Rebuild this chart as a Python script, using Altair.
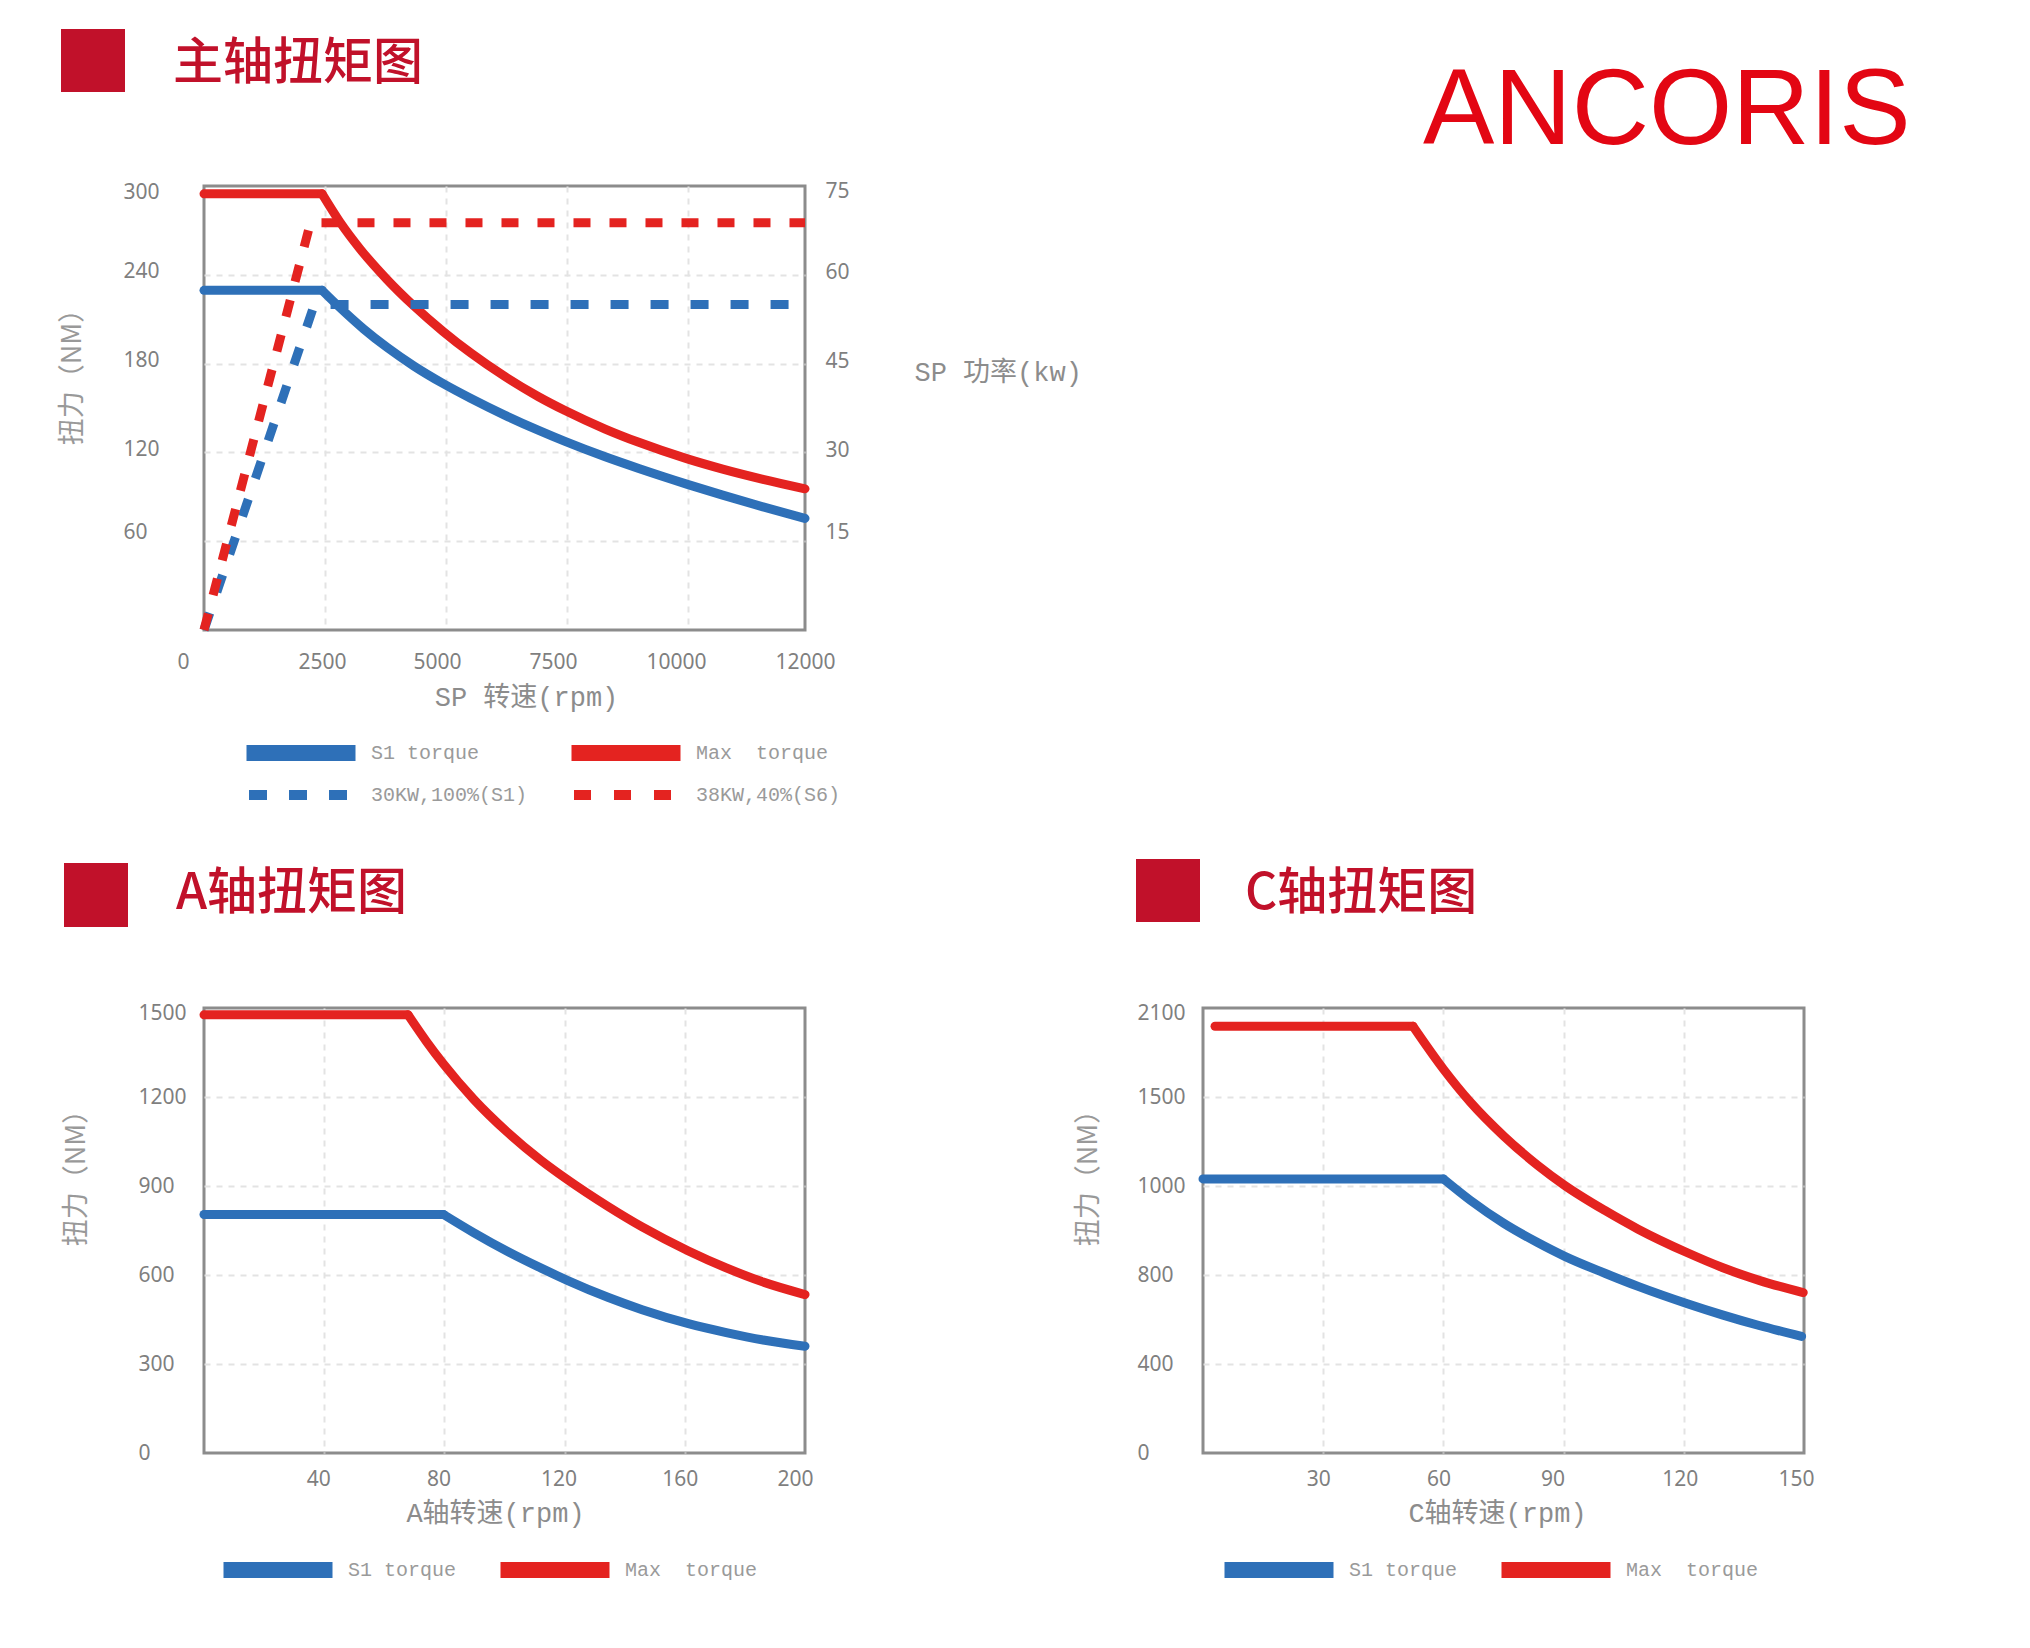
import altair as alt
import pandas as pd

# ---------------- data ----------------
# Main spindle (主轴)
sp_s1_rpm = [0, 2440, 2812, 3298, 3783, 4339, 4934, 5517, 6211, 6903, 7459, 8289, 8983, 9988, 10593, 11282, 12000]
sp_s1_nm = [229.5, 229.5, 217.7, 203.4, 190.9, 178.3, 166.6, 156.4, 145.2, 135.0, 127.4, 117.0, 109.1, 98.4, 91.1, 83.2, 75.4]
sp_max_rpm = [0, 2440, 2812, 3229, 3783, 4339, 4934, 5517, 6211, 6903, 7459, 8289, 8983, 9988, 10593, 11282, 12000]
sp_max_nm = [294.7, 294.7, 275.5, 257.3, 236.8, 218.9, 201.9, 187.0, 171.4, 157.8, 148.3, 135.8, 126.8, 115.6, 108.7, 101.8, 95.4]
sp_p30_rpm = [0, 2280, 12000]
sp_p30_kw = [0, 55.0, 55.0]
sp_p38_rpm = [0, 2200, 12000]
sp_p38_kw = [0, 68.8, 68.8]

# A axis
a_s1_rpm = [0, 79.7, 89.7, 100.9, 112.2, 120.7, 134.6, 145.8, 161.2, 173.8, 186.1, 200]
a_s1_nm = [804, 804, 743, 680, 623, 583, 524, 483, 436, 406, 381, 360]
a_max_rpm = [0, 67.9, 74.1, 79.7, 89.7, 100.9, 112.2, 120.7, 134.6, 145.8, 161.2, 173.8, 186.1, 200]
a_max_nm = [1477, 1477, 1386, 1311, 1193, 1082, 986, 923, 830, 762, 681, 624, 576, 534]

# C axis
c_s1_rpm = [0, 60.0, 66.7, 75.1, 83.5, 90.3, 100.3, 108.6, 120.9, 129.6, 138.8, 149.4]
c_s1_nm = [1040, 1040, 968, 916, 873, 842, 804, 749, 671, 621, 573, 524]
c_max_rpm = [3, 52.4, 60.0, 66.7, 75.1, 83.5, 90.3, 100.3, 108.6, 120.9, 129.6, 138.8, 149.8]
c_max_nm = [1977, 1977, 1688, 1472, 1280, 1117, 1003, 945, 903, 850, 817, 776, 721]

torque_names = ["S1 torque", "Max\u00a0 torque"]
power_names = ["30KW,100%(S1)", "38KW,40%(S6)"]

sp_x_ticks = [0, 2500, 5000, 7500, 10000, 12000]
sp_y_ticks = [60, 120, 180, 240, 300]
sp_p_ticks = [15, 30, 45, 60, 75]
a_x_ticks = [40, 80, 120, 160, 200]
a_y_ticks = [0, 300, 600, 900, 1200, 1500]
c_x_ticks = [30, 60, 90, 120, 150]
c_y_ticks = [0, 400, 800, 1000, 1500, 2100]

titles = ["主轴扭矩图", "A轴扭矩图", "C轴扭矩图"]
brand = "ANCORIS"

# ---------------- styles ----------------
BLUE = "#2e70b8"
RED = "#e42320"
CRIMSON = "#c1112a"
BRAND_RED = "#e30613"
GRAY_LBL = "#7f7f7f"
GRAY_TTL = "#8c8c8c"
MONO = "Liberation Mono, Noto Sans CJK SC"
SOLID = "M-5.45,0H5.45"
DASHED = "M-4.9,0H-3.1M-0.9,0H0.9M3.1,0H4.9"
LW = 9


def series_df(pairs, xname, yname, sname):
    rows = []
    for name, xs, ys in pairs:
        for i, (xv, yv) in enumerate(zip(xs, ys)):
            rows.append({xname: xv, yname: yv, sname: name, "i": i})
    return pd.DataFrame(rows)


def section_title(text, sq, tx, ty):
    sq_layer = alt.Chart(alt.Data(values=[{"k": 1}])).mark_rect(color=CRIMSON).encode(
        x=alt.value(sq[0]), x2=alt.value(sq[1]), y=alt.value(sq[2]), y2=alt.value(sq[3])
    )
    txt_layer = alt.Chart(alt.Data(values=[{"t": text}])).mark_text(
        font="Noto Sans CJK SC", fontSize=50, fontWeight=500, color=CRIMSON,
        align="left", baseline="middle"
    ).encode(text="t:N", x=alt.value(tx), y=alt.value(ty))
    return [sq_layer, txt_layer]


def legend(x, y, symbol, sw, offset, cp):
    return alt.Legend(
        title=None, orient="none", legendX=x, legendY=y, direction="horizontal", columns=2,
        symbolType=symbol, symbolSize=400, symbolStrokeWidth=sw, symbolOpacity=1,
        labelFont="Liberation Mono", labelFontSize=20, labelColor="#9a9a9a",
        labelOffset=offset, columnPadding=cp, padding=0, labelLimit=0,
    )


def shifts(mapping, default=0):
    return {"condition": [{"test": f"datum.value == {k}", "value": v} for k, v in mapping.items()],
            "value": default}


def hide_grid(test):
    return {"condition": {"test": test, "value": 0}, "value": 1}


def torque_lines(df, enc):
    """Flat part drawn straight, the falling part drawn as a smooth curve."""
    flat = alt.Chart(df).transform_filter("datum.i <= 1").mark_line(
        strokeWidth=LW, strokeCap="round", strokeJoin="round").encode(**enc)
    curve = alt.Chart(df).transform_filter("datum.i >= 1").mark_line(
        strokeWidth=LW, strokeCap="round", strokeJoin="round", interpolate="monotone").encode(**enc)
    return alt.layer(flat, curve)


# ---------------- main spindle chart ----------------
sp_torque = series_df(
    [(torque_names[0], sp_s1_rpm, sp_s1_nm), (torque_names[1], sp_max_rpm, sp_max_nm)],
    "rpm", "nm", "series")
sp_power = series_df(
    [(power_names[0], sp_p30_rpm, sp_p30_kw), (power_names[1], sp_p38_rpm, sp_p38_kw)],
    "rpm", "kw", "pseries")

sp_x = alt.X(
    "rpm:Q",
    scale=alt.Scale(domain=[0, 10000, 12000], range=[0, 484, 601], nice=False, zero=False),
    axis=alt.Axis(
        values=sp_x_ticks, format="d", title="SP 转速(rpm)", labelPadding=21, labelFlush=False,
        labelOffset=shifts({0: -21, 2500: -3, 5000: -9, 7500: -14, 10000: -12}),
        gridOpacity=hide_grid("datum.value == 0 || datum.value == 12000"),
        titleFont=MONO, titleFontSize=27, titleX=322, titleY=67,
        titleAlign="center", titleBaseline="middle",
    ),
)

sp_enc = dict(
    x=sp_x,
    y=alt.Y(
        "nm:Q", scale=alt.Scale(domain=[0, 300], nice=False, zero=False),
        axis=alt.Axis(
            values=sp_y_ticks, format="d", title="扭力（NM）", labelAlign="left", labelPadding=81,
            labelOffset=shifts({300: 6, 60: -9}, -3), labelFlush=False,
            gridOpacity=hide_grid("datum.value == 300"),
            titleFont="Noto Sans CJK SC", titleFontSize=27, titleColor="#999999",
            titleAngle=270, titleX=-131.5, titleY=184, titleAlign="center", titleBaseline="middle",
        ),
    ),
    color=alt.Color("series:N", scale=alt.Scale(domain=torque_names, range=[BLUE, RED]),
                    legend=legend(79, 549, SOLID, 16, 52, 59)),
    order="i:Q",
)

sp_power_layer = alt.Chart(sp_power).mark_line(strokeWidth=LW, strokeCap="butt", strokeJoin="round").encode(
    x=sp_x,
    y=alt.Y(
        "kw:Q", scale=alt.Scale(domain=[0, 75], nice=False, zero=False),
        axis=alt.Axis(
            orient="right", values=sp_p_ticks, format="d", grid=False, title="SP 功率(kw)",
            labelPadding=20, labelOffset=shifts({75: 5, 15: -9}, -2), labelFlush=False,
            titleFont=MONO, titleFontSize=27, titleAngle=0, titleX=109, titleY=186,
            titleAlign="left", titleBaseline="middle",
        ),
    ),
    stroke=alt.Stroke("pseries:N", scale=alt.Scale(domain=power_names, range=[BLUE, RED]),
                      legend=legend(79, 594, DASHED, 10, 58, 26)),
    strokeDash=alt.StrokeDash("pseries:N", scale=alt.Scale(domain=power_names, range=[[18, 22], [17, 19]]),
                              legend=None),
    order="i:Q",
)

main = alt.layer(
    torque_lines(sp_torque, sp_enc), sp_power_layer,
    *section_title(titles[0], (-143, -79, -157, -94), -31, -122),
).resolve_scale(y="independent").properties(width=601, height=444)

# ---------------- logo cell ----------------
logo = alt.Chart(alt.Data(values=[{"brand": brand}])).mark_text(
    font="Liberation Sans", fontSize=107, color=BRAND_RED, align="left", baseline="alphabetic"
).encode(text="brand:N", x=alt.value(220), y=alt.value(-42)).properties(
    width=601, height=444, view=alt.ViewBackground(strokeOpacity=0)
)


# ---------------- A / C axis charts ----------------
def axis_chart(s1_rpm, s1_nm, mx_rpm, mx_nm, fname, xdom, xticks, x_shift, ydom, yrange, yticks, ytop,
               xtitle, ytitle_x, title, sq, tx, title_x, leg_x):
    df = series_df([(torque_names[0], s1_rpm, s1_nm), (torque_names[1], mx_rpm, mx_nm)], "rpm", "nm", fname)
    if yrange is not None:
        yscale = alt.Scale(domain=ydom, range=yrange, nice=False, zero=False)
    else:
        yscale = alt.Scale(domain=ydom, nice=False, zero=False)
    enc = dict(
        x=alt.X("rpm:Q", scale=alt.Scale(domain=xdom, nice=False, zero=False),
                axis=alt.Axis(values=xticks, format="d", title=xtitle, labelPadding=15.5, labelFlush=False,
                              labelOffset=shifts(x_shift),
                              gridOpacity=hide_grid(f"datum.value == {xdom[1]}"),
                              titleFont=MONO, titleFontSize=27, titleX=title_x, titleY=60,
                              titleAlign="center", titleBaseline="middle")),
        y=alt.Y("nm:Q", scale=yscale,
                axis=alt.Axis(values=yticks, format="d", title="扭力（NM）", labelAlign="left", labelPadding=66,
                              labelOffset=shifts({ytop: 5}), labelFlush=False,
                              gridOpacity=hide_grid(f"datum.value == 0 || datum.value == {ytop}"),
                              titleFont="Noto Sans CJK SC", titleFontSize=27, titleColor="#999999",
                              titleAngle=270, titleX=ytitle_x, titleY=163,
                              titleAlign="center", titleBaseline="middle")),
        color=alt.Color(f"{fname}:N", scale=alt.Scale(domain=torque_names, range=[BLUE, RED]),
                        legend=legend(leg_x, 544, SOLID, 16, 52, 11)),
        order="i:Q",
    )
    return alt.layer(torque_lines(df, enc), *section_title(title, sq, tx, -114)).properties(
        width=601, height=445)


a_chart = axis_chart(a_s1_rpm, a_s1_nm, a_max_rpm, a_max_nm, "aseries", [0, 200], a_x_ticks,
                     {40: -6, 80: -6, 120: -6, 160: -5, 200: -10},
                     [0, 1500], None, a_y_ticks, 1500, "A轴转速(rpm)", -128,
                     titles[1], (-140, -76, -145, -81), -28, 291, 56)
c_chart = axis_chart(c_s1_rpm, c_s1_nm, c_max_rpm, c_max_nm, "cseries", [0, 150], c_x_ticks,
                     {30: -5, 60: -5, 90: -11, 120: -4, 150: -8},
                     c_y_ticks, [445, 356, 267, 178, 89, 0], c_y_ticks, 2100, "C轴转速(rpm)", -115,
                     titles[2], (-67, -3, -149, -86), 42, 294, 58)

chart = alt.concat(
    main, logo, a_chart, c_chart, columns=2, spacing={"row": 378, "column": 398}, bounds="flush"
).resolve_scale(color="independent", stroke="independent", strokeDash="independent").resolve_legend(
    color="independent", stroke="independent"
).properties(
    padding={"left": 49, "top": 19, "right": 10, "bottom": 10}
).configure_view(
    stroke="#8c8c8c", strokeWidth=3
).configure_axis(
    domain=False, ticks=False, tickSize=0, grid=True, gridColor="#e3e3e3", gridDash=[6, 6], gridWidth=2,
    labelFont="Noto Sans", labelFontSize=21, labelColor=GRAY_LBL,
    titleColor=GRAY_TTL, titleFontWeight="normal",
)

chart.save("out.html", embed_options={"renderer": "svg", "actions": False})
